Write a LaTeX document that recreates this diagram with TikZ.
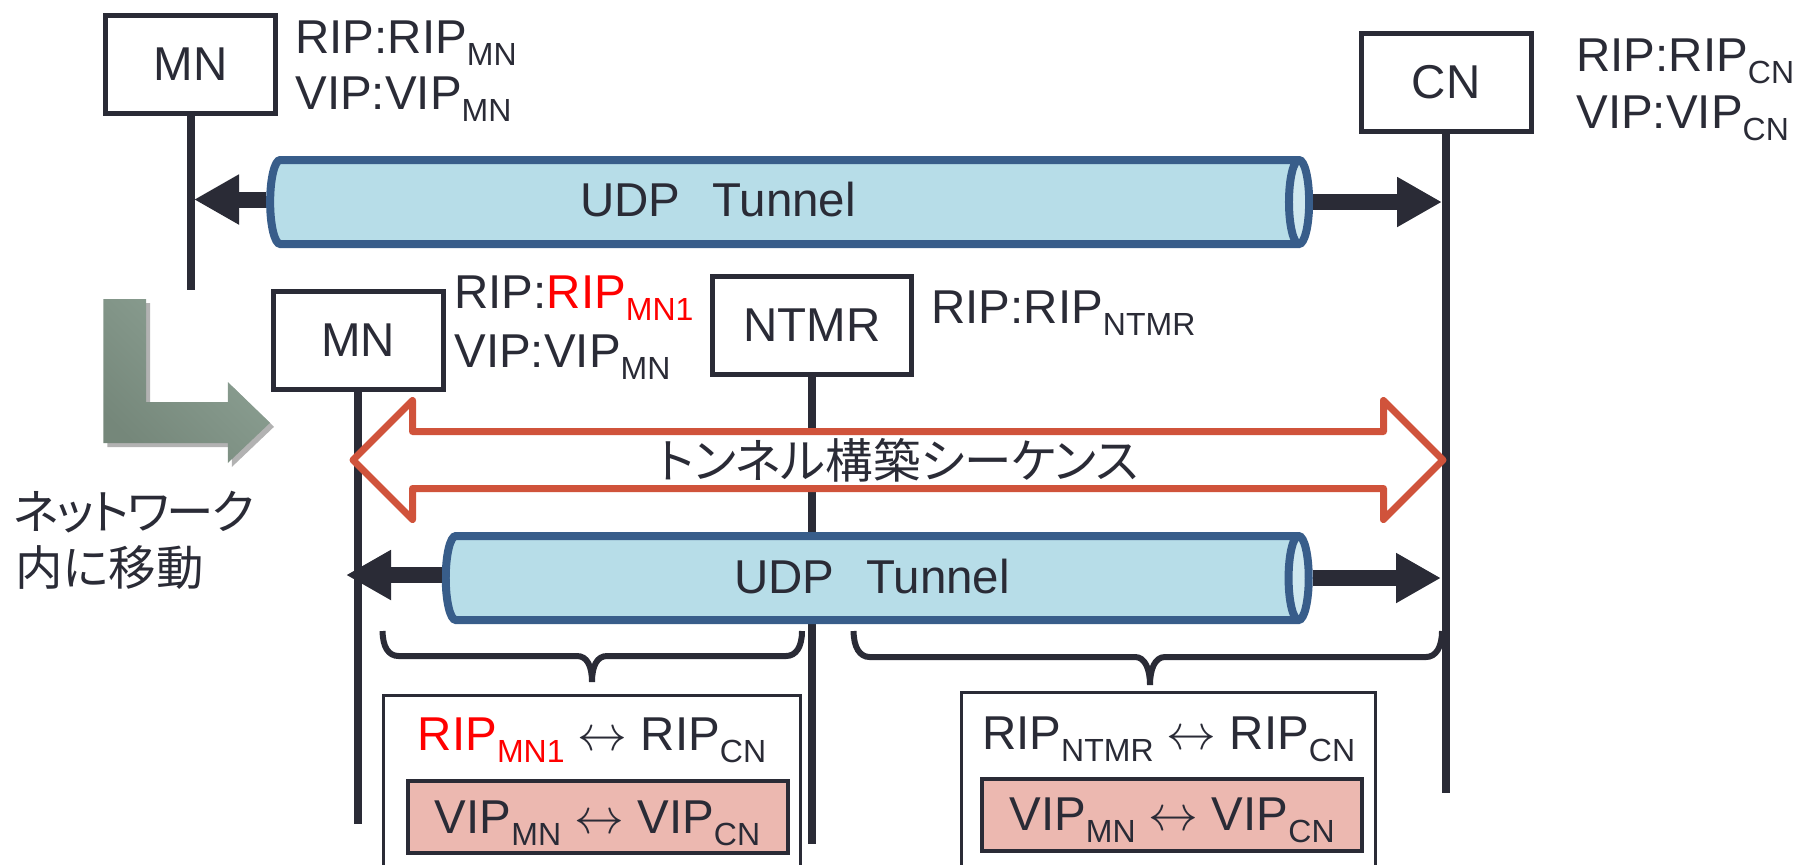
\documentclass[tikz,border=0pt]{standalone}
\usepackage{fontspec}
\setmainfont{Liberation Sans}
\newfontfamily\jpfont[RawFeature=+palt]{Noto Sans CJK JP}
\usetikzlibrary{arrows.meta, shapes.geometric, shapes.arrows}
\definecolor{ink}{HTML}{2A2B36}
\definecolor{pipe}{HTML}{385D8A}
\definecolor{pipefill}{HTML}{B7DDE8}
\definecolor{pipeend}{HTML}{CFE8EF}
\definecolor{seq}{HTML}{D0533B}
\definecolor{vipfill}{HTML}{ECB8B0}
\definecolor{movelight}{HTML}{8FA396}
\definecolor{movedark}{HTML}{75877A}
\newcommand{\low}[1]{\raisebox{-6pt}{\fontsize{16}{18}\selectfont #1}}
\tikzset{
x=1pt, y=-1pt, % half a pixel of the reference per unit, measured from the top
every node/.style={font=\fontsize{23.75}{28}\selectfont, text=ink, inner sep=0pt},
host/.style={draw=ink, line width=2.5pt, fill=white, minimum height=49pt}, % boxes on top of the lifelines
addr/.style={anchor=base west}, % address lines beside the boxes
lifeline/.style={draw=ink, line width=3.75pt},
tunnel/.style={cylinder, draw=pipe, line width=4pt, cylinder uses custom fill, cylinder body fill=pipefill, cylinder end fill=pipeend, shape aspect=0.24, text height=42pt, text depth=0pt},
bigarrow/.style={draw=ink, line width=8pt, -{Triangle[length=22.5pt, width=23.5pt]}},
curly/.style={draw=ink, line width=3pt},
mapbox/.style={draw=ink, line width=1.5pt, fill=white, anchor=north, minimum height=90pt},
vipbox/.style={draw=ink, line width=2pt, fill=vipfill, minimum height=36pt, minimum width=190pt, text depth=0pt},
}

\begin{document}
\begin{tikzpicture}
    \path[use as bounding box, clip] (0,0) rectangle (900,432);

    \node[host, minimum width=85pt] (mna) at (95.4,32) {MN};
    \node[host, minimum width=85pt] (mnb) at (179,170) {MN};
    \node[host, minimum width=99.5pt] (ntmr) at (406,162.5) {NTMR};
    \node[host, minimum width=85pt] (cn) at (723,41) {CN};
    \coordinate (mnaend) at (95.4,145);
    \coordinate (mnbend) at (179,412);
    \coordinate (ntmrend) at (406,422);
    \coordinate (cnend) at (723,396.5);
    \draw
    (mna) edge[lifeline] (mnaend)
    (mnb) edge[lifeline] (mnbend)
    (ntmr) edge[lifeline] (ntmrend)
    (cn) edge[lifeline] (cnend);

    \node[addr] (mnarip) at (147.5,26.5) {RIP:RIP\low{MN}};
    \node[addr] (mnavip) at (147.5,54.5) {VIP:VIP\low{MN}};
    \node[addr] (cnrip) at (788,35.5) {RIP:RIP\low{CN}};
    \node[addr] (cnvip) at (788,64) {VIP:VIP\low{CN}};
    \node[addr] (mnbrip) at (227,154) {RIP:\textcolor{red}{RIP\low{MN1}}};
    \node[addr] (mnbvip) at (227,183.5) {VIP:VIP\low{MN}};
    \node[addr] (ntmrrip) at (465.5,161.5) {RIP:RIP\low{NTMR}};

    % move into the new network
    \fill[gray!60, shift={(2,2)}] (51.7,149.5) -- (73,149.5) -- (73,201) -- (113.9,201) -- (113.9,191) -- (135,211.4) -- (113.9,231.5) -- (113.9,221.5) -- (51.7,221.5) -- cycle;
    \shade[bottom color=movedark, top color=movelight, shading angle=-45] (51.7,149.5) -- (73,149.5) -- (73,201) -- (113.9,201) -- (113.9,191) -- (135,211.4) -- (113.9,231.5) -- (113.9,221.5) -- (51.7,221.5) -- cycle;
    \node[anchor=base west] (movea) at (6.5,264.5) {\jpfont\addfontfeature{LetterSpace=-4.2}ネットワーク};
    \node[anchor=base west] (moveb) at (7.5,292.5) {\jpfont 内に移動};

    \coordinate (tipa) at (97,99.75);
    \coordinate (tipb) at (721,101);
    \coordinate (tipc) at (173,287.5);
    \coordinate (tipd) at (720.5,289);

    \node[double arrow, draw=seq, fill=white, line width=3.5pt, line join=round, double arrow tip angle=90, double arrow head extend=15.5pt, minimum height=545pt, text height=21.75pt, text depth=3.25pt] (seqarrow) at (449,230) {\jpfont トンネル構築シーケンス};

    \node[tunnel, minimum height=519.5pt] (tunnela) at (391.3,101) {};
    \node[tunnel, minimum height=431.5pt] (tunnelb) at (435.1,289) {};
    \draw[bigarrow] (tunnela.west |- tipa) -- (tipa);
    \draw[bigarrow] (tunnela.east |- tipb) -- (tipb);
    \draw[bigarrow] (tunnelb.west |- tipc) -- (tipc);
    \draw[bigarrow] (tunnelb.east |- tipd) -- (tipd);
    \node (udpa) at (359,100) {UDP\hspace{16pt}Tunnel};
    \node (udpb) at (436,288.25) {UDP\hspace{16pt}Tunnel};

    \coordinate (bracea) at (191.3,315.5);
    \coordinate (braceb) at (401,315.5);
    \coordinate (tipe) at (296,341);
    \coordinate (bracec) at (426.8,315.5);
    \coordinate (braced) at (721,315.5);
    \coordinate (tipf) at (575,342.5);
    \draw[curly] (bracea) .. controls +(0,8) and +(-5,0) .. (199.3,328) -- (288.5,328) .. controls +(5,0) and +(0,-8) .. (tipe) .. controls +(0,-8) and +(-5,0) .. (303.5,328) -- (393,328) .. controls +(5,0) and +(0,8) .. (braceb);
    \draw[curly] (bracec) .. controls +(0,8) and +(-5,0) .. (434.8,328.5) -- (567.5,328.5) .. controls +(5,0) and +(0,-8) .. (tipf) .. controls +(0,-8) and +(-5,0) .. (582.5,328.5) -- (713,328.5) .. controls +(5,0) and +(0,8) .. (braced);

    \node[mapbox, minimum width=208.5pt] (mapa) at (295.75,347) {};
    \node[mapbox, minimum width=207pt] (mapb) at (584,345.5) {};
    \node[anchor=base] (ripa) at (296,375) {\textcolor{red}{RIP\low{MN1}} $\leftrightarrow$ RIP\low{CN}};
    \node[anchor=base] (ripb) at (584.3,374.5) {RIP\low{NTMR} $\leftrightarrow$ RIP\low{CN}};
    \node[vipbox] (vipa) at (298.75,408.5) {VIP\low{MN} $\leftrightarrow$ VIP\low{CN}};
    \node[vipbox] (vipb) at (586,407.25) {VIP\low{MN} $\leftrightarrow$ VIP\low{CN}};
\end{tikzpicture}
\end{document}
